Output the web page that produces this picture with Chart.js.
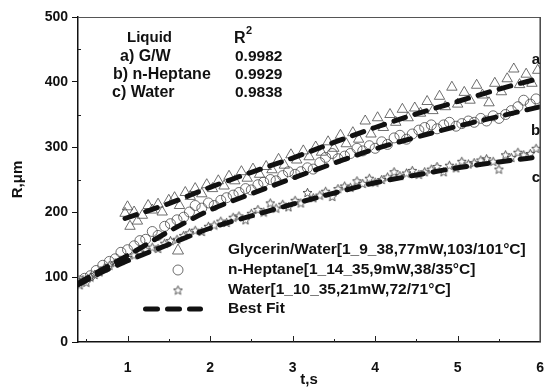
<!DOCTYPE html>
<html>
<head>
<meta charset="utf-8">
<script src="https://cdn.jsdelivr.net/npm/chart.js@4.4.1/dist/chart.umd.min.js"></script>
<style>
  html, body { margin: 0; padding: 0; background: #fff; }
  #wrap { width: 547px; height: 392px; }
</style>
</head>
<body>
<div id="wrap"><canvas id="chart" width="547" height="392"></canvas></div>
<script>
const tGW = [0.97,1.0,1.03,1.08,1.12,1.18,1.25,1.3,1.37,1.42,1.5,1.57,1.63,1.7,1.76,1.82,1.9,1.96,2.03,2.1,2.17,2.23,2.3,2.38,2.45,2.52,2.6,2.68,2.75,2.83,2.9,2.98,3.05,3.13,3.2,3.28,3.35,3.43,3.5,3.58,3.65,3.73,3.8,3.88,3.95,4.03,4.1,4.18,4.25,4.33,4.4,4.48,4.55,4.63,4.7,4.78,4.85,4.93,5.0,5.08,5.15,5.23,5.3,5.38,5.45,5.53,5.6,5.68,5.75,5.83,5.9,5.97];
const rGW = [198,208,178,200,186,195,210,203,212,200,218,222,210,230,224,236,228,242,236,248,240,255,248,262,252,266,258,270,265,281,272,288,280,294,285,300,292,308,298,318,305,322,312,340,320,345,330,350,338,358,345,360,352,370,356,378,362,392,366,384,372,395,380,368,398,385,405,420,396,412,398,418];

const tHep = [0.42,0.48,0.55,0.62,0.7,0.78,0.85,0.92,1.0,1.08,1.15,1.22,1.3,1.37,1.45,1.52,1.6,1.68,1.75,1.82,1.9,1.98,2.05,2.13,2.2,2.28,2.35,2.43,2.5,2.58,2.65,2.73,2.8,2.88,2.95,3.03,3.1,3.18,3.25,3.33,3.4,3.48,3.55,3.63,3.7,3.78,3.85,3.93,4.0,4.08,4.15,4.23,4.3,4.38,4.45,4.53,4.6,4.68,4.75,4.83,4.9,4.98,5.05,5.13,5.2,5.28,5.35,5.43,5.5,5.58,5.65,5.73,5.8,5.88,5.95];
const rHep = [94,98,102,110,118,124,128,138,142,148,156,158,170,164,178,182,188,192,200,210,206,214,210,218,222,226,230,236,234,242,246,250,248,256,262,258,262,268,266,276,284,290,282,286,290,298,294,302,298,308,304,314,318,312,320,326,330,334,328,334,338,332,336,340,338,344,340,348,344,350,356,362,372,366,374];

const tWat = [0.42,0.46,0.5,0.55,0.6,0.66,0.72,0.78,0.85,0.92,1.0,1.08,1.15,1.22,1.3,1.37,1.45,1.52,1.6,1.68,1.75,1.82,1.9,1.98,2.05,2.13,2.2,2.28,2.35,2.43,2.5,2.58,2.65,2.73,2.8,2.88,2.95,3.03,3.1,3.18,3.25,3.33,3.4,3.48,3.55,3.63,3.7,3.78,3.85,3.93,4.0,4.08,4.15,4.23,4.3,4.38,4.45,4.53,4.6,4.68,4.75,4.83,4.9,4.98,5.05,5.13,5.2,5.28,5.35,5.43,5.5,5.58,5.65,5.73,5.8,5.88,5.95];
const rWat = [88,96,92,100,104,108,114,118,122,126,130,134,138,142,146,144,152,156,158,164,168,172,170,178,180,186,184,192,194,188,198,204,200,214,206,212,208,218,214,230,222,226,232,224,236,240,238,248,244,252,246,250,254,262,256,260,264,258,262,266,270,262,272,268,278,274,276,280,282,278,266,288,284,292,288,290,298];

// best fit curves
const fitTGW = [0.97,1.5,2,2.5,3,3.5,4,4.5,5,5.5,6];
const fitGW = [190,213,238,261,283,307,330,351,370,389,406];
const fitT = [0.4,0.7,1,1.5,2,2.5,3,3.5,4,4.5,5,5.5,6];
const fitHep = [90,112,133,170,203,228,252,275,297,315,332,347,362];
const fitWat = [88,108,125,150,175,194,212,229,245,257,268,277,285];

const xTicks = [1, 2, 3, 4, 5, 6];
const yTicks = [0, 100, 200, 300, 400, 500];

const seriesLabels = [
    'Glycerin/Water[1_9_38,77mW,103/101°C]',
    'n-Heptane[1_14_35,9mW,38/35°C]',
    'Water[1_10_35,21mW,72/71°C]',
    'Best Fit'
];
const liquids = ['a) G/W', 'b) n-Heptane', 'c) Water'];
const r2 = ['0.9982', '0.9929', '0.9838'];
const curveTags = ['a', 'b', 'c'];

const BOLD = '"Liberation Sans", Arial, Helvetica, sans-serif';
const pts = (ts, rs) => ts.map((t, i) => ({ x: t, y: rs[i] }));

// open five point star for the water series
function makeStar(size) {
    const c = document.createElement('canvas');
    c.width = size;
    c.height = size;
    const g = c.getContext('2d');
    const cx = size / 2, cy = size / 2 + 0.5, ro = size / 2 - 0.8, ri = ro * 0.45;
    g.beginPath();
    for (let k = 0; k < 10; k++) {
        const r = k % 2 ? ri : ro;
        const a = -Math.PI / 2 + k * Math.PI / 5;
        const px = cx + r * Math.cos(a), py = cy + r * Math.sin(a);
        k ? g.lineTo(px, py) : g.moveTo(px, py);
    }
    g.closePath();
    g.strokeStyle = '#444';
    g.lineWidth = 0.9;
    g.stroke();
    return c;
}
const star = makeStar(11);

const fitStyle = {
    type: 'line',
    borderColor: '#111',
    borderWidth: 5,
    borderDash: [12, 10],
    borderCapStyle: 'round',
    pointRadius: 0,
    cubicInterpolationMode: 'monotone',
    fill: false,
    order: 0
};
const markStyle = {
    type: 'scatter',
    backgroundColor: 'rgba(0,0,0,0)',
    borderColor: '#4a4a4a',
    borderWidth: 0.8,
    order: 1
};

const decor = {
    id: 'decor',
    afterDraw(chart) {
        const ctx = chart.ctx;
        const { left, right, top, bottom } = chart.chartArea;
        const xs = chart.scales.x, ys = chart.scales.y;
        ctx.save();

        // frame top / right
        ctx.strokeStyle = '#555';
        ctx.lineWidth = 1;
        ctx.beginPath();
        ctx.moveTo(left, top + 0.5);
        ctx.lineTo(right, top + 0.5);
        ctx.stroke();
        ctx.strokeStyle = '#444';
        ctx.lineWidth = 1.5;
        ctx.beginPath();
        ctx.moveTo(right, top);
        ctx.lineTo(right, bottom);
        ctx.stroke();

        // inner ticks
        ctx.strokeStyle = '#222';
        ctx.lineWidth = 1;
        ctx.beginPath();
        for (let v = 0.5; v < 6; v += 0.5) {
            const px = Math.round(xs.getPixelForValue(v)) + 0.5;
            const len = Number.isInteger(v) ? 6 : 3;
            ctx.moveTo(px, bottom);
            ctx.lineTo(px, bottom - len);
        }
        for (let v = 50; v < 500; v += 100) {
            const py = Math.round(ys.getPixelForValue(v)) + 0.5;
            ctx.moveTo(left, py);
            ctx.lineTo(left + 3, py);
        }
        ctx.stroke();

        ctx.fillStyle = '#111';
        ctx.textBaseline = 'middle';

        // R^2 table
        ctx.font = 'bold 15px ' + BOLD;
        ctx.fillText('Liquid', 127, 38);
        ctx.font = 'bold 16px ' + BOLD;
        ctx.fillText('R', 234, 39);
        ctx.font = 'bold 11px ' + BOLD;
        ctx.fillText('2', 246, 31);
        const lx = [120, 113, 112];
        liquids.forEach((s, i) => {
            ctx.font = 'bold 16px ' + BOLD;
            ctx.fillText(s, lx[i], 57 + i * 18);
            ctx.font = 'bold 15.5px ' + BOLD;
            ctx.fillText(r2[i], 235, 57 + i * 18);
        });

        // curve tags at right edge
        ctx.font = 'bold 15px ' + BOLD;
        ctx.textAlign = 'right';
        [60, 131, 178].forEach((y, i) => ctx.fillText(curveTags[i], right, y));
        ctx.textAlign = 'left';

        // legend
        const mx = 178, rows = [250, 270, 290, 309];
        ctx.strokeStyle = '#4a4a4a';
        ctx.lineWidth = 0.8;
        ctx.beginPath();
        ctx.moveTo(mx, rows[0] - 6);
        ctx.lineTo(mx + 5.5, rows[0] + 4);
        ctx.lineTo(mx - 5.5, rows[0] + 4);
        ctx.closePath();
        ctx.stroke();
        ctx.beginPath();
        ctx.arc(mx, rows[1], 5, 0, Math.PI * 2);
        ctx.stroke();
        ctx.drawImage(star, mx - 5.5, rows[2] - 5.5);

        ctx.strokeStyle = '#111';
        ctx.lineWidth = 5;
        ctx.lineCap = 'round';
        ctx.setLineDash([12, 10]);
        ctx.beginPath();
        ctx.moveTo(145.5, rows[3]);
        ctx.lineTo(200.5, rows[3]);
        ctx.stroke();
        ctx.setLineDash([]);

        ctx.font = 'bold 15.5px ' + BOLD;
        seriesLabels.forEach((s, i) => ctx.fillText(s, 228, rows[i]));
        ctx.restore();
    }
};

new Chart(document.getElementById('chart'), {
    data: {
        datasets: [
            { ...fitStyle, label: 'fit a', data: pts(fitTGW, fitGW) },
            { ...fitStyle, label: 'fit b', data: pts(fitT, fitHep) },
            { ...fitStyle, label: 'fit c', data: pts(fitT, fitWat) },
            { ...markStyle, label: seriesLabels[0], data: pts(tGW, rGW), pointStyle: 'triangle', pointRadius: 6 },
            { ...markStyle, label: seriesLabels[1], data: pts(tHep, rHep), pointStyle: 'circle', pointRadius: 5 },
            { ...markStyle, label: seriesLabels[2], data: pts(tWat, rWat), pointStyle: star, pointRadius: 5 }
        ]
    },
    options: {
        responsive: false,
        animation: false,
        layout: { padding: { top: 17, right: 4, left: 0, bottom: 0 } },
        plugins: { legend: { display: false }, tooltip: { enabled: false } },
        scales: {
            x: {
                type: 'linear',
                min: 0.4,
                max: 6,
                afterBuildTicks: s => { s.ticks = xTicks.map(v => ({ value: v })); },
                afterFit: s => { s.height = 50; s.paddingLeft = 0; s.paddingRight = 0; },
                grid: { display: false },
                border: { display: true, color: '#111', width: 1.5 },
                ticks: { color: '#111', padding: 10, maxRotation: 0, font: { size: 14, weight: 'bold', family: BOLD } },
                title: { display: true, text: 't,s', color: '#111', padding: { top: 0, bottom: 3 }, font: { size: 15, weight: 'bold', family: BOLD } }
            },
            y: {
                type: 'linear',
                min: 0,
                max: 500,
                afterBuildTicks: s => { s.ticks = yTicks.map(v => ({ value: v })); },
                afterFit: s => { s.width = 78; s.paddingTop = 0; s.paddingBottom = 0; },
                grid: { drawOnChartArea: false, drawTicks: true, tickLength: 6, color: '#111' },
                border: { display: true, color: '#111', width: 1.5 },
                ticks: { color: '#111', padding: 4, font: { size: 14, weight: 'bold', family: BOLD } },
                title: { display: true, text: 'R,μm', color: '#111', padding: { top: 9, bottom: 0 }, font: { size: 15, weight: 'bold', family: BOLD } }
            }
        }
    },
    plugins: [decor]
});
</script>
</body>
</html>
